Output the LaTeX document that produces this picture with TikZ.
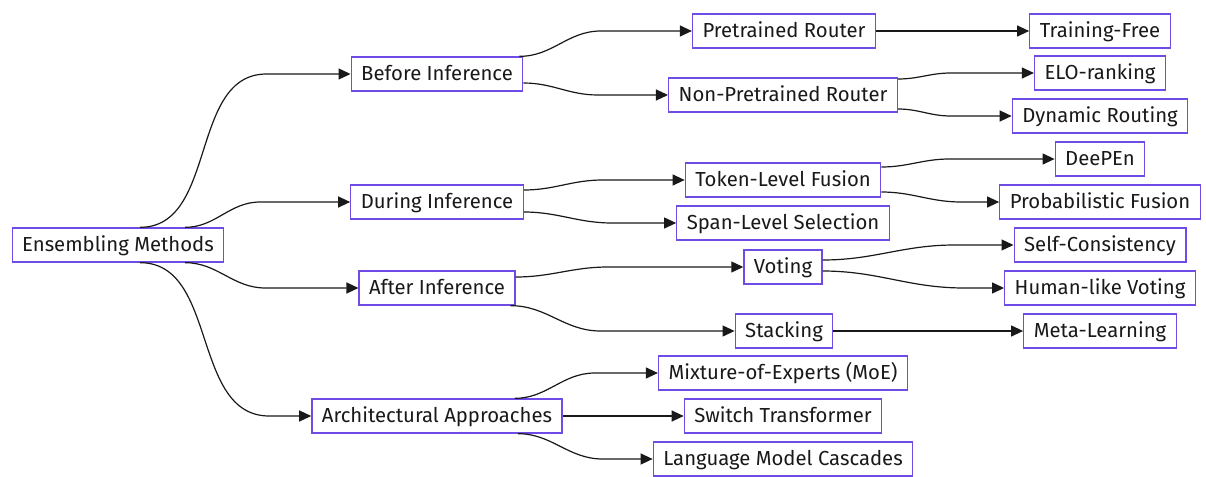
\documentclass[tikz,border=0pt]{standalone}
\usepackage{fontspec}
\setmainfont{Fira Sans}
\usetikzlibrary{arrows.meta,calc}
\definecolor{boxborder}{RGB}{112,76,230}
\definecolor{linecol}{RGB}{25,25,25}
\tikzset{
  box/.style={draw=boxborder,line width=1.3pt,fill=white,text=linecol,
    minimum height=34pt,inner xsep=10pt,inner ysep=0pt,
    text height=16pt,text depth=3pt,
    font=\fontsize{20.3pt}{23pt}\selectfont},
  edge/.style={draw=linecol,line width=1.2pt,
    -{Triangle[length=12pt,width=11pt]}},
}
\begin{document}
\begin{tikzpicture}[x=1pt,y=-1pt]
\useasboundingbox (0,0) rectangle (1206,476);
% level 0
\node[box] (em) at (118,245) {Ensembling Methods};
% level 1
\node[box] (bi) at (437,74) {Before Inference};
\node[box] (di) at (437,202) {During Inference};
\node[box] (ai) at (437,288) {After Inference};
\node[box] (aa) at (437,416) {Architectural Approaches};
% level 2
\node[box] (pr) at (784,31) {Pretrained Router};
\node[box] (npr) at (783,95) {Non-Pretrained Router};
\node[box] (tlf) at (783,180) {Token-Level Fusion};
\node[box] (sls) at (783,223) {Span-Level Selection};
\node[box] (vo) at (783,267) {Voting};
\node[box] (st) at (784,331) {Stacking};
\node[box] (moe) at (783,373) {Mixture-of-Experts (MoE)};
\node[box] (sw) at (783,416) {Switch Transformer};
\node[box] (lmc) at (783,459) {Language Model Cascades};
% level 3
\node[box] (tf) at (1100,31) {Training-Free};
\node[box] (elo) at (1100,73) {ELO-ranking};
\node[box] (dr) at (1100,116) {Dynamic Routing};
\node[box] (dp) at (1100,159) {DeePEn};
\node[box] (pf) at (1100,202) {Probabilistic Fusion};
\node[box] (sc) at (1100,245) {Self-Consistency};
\node[box] (hv) at (1100,288) {Human-like Voting};
\node[box] (ml) at (1100,331) {Meta-Learning};
% edges from root
\draw[edge] ($(em.north)+(22,0)$) to[out=0,in=180] ($(bi.west)+(-84,0)$) -- (bi.west);
\draw[edge] ($(em.north)+(67,0)$) to[out=0,in=180] ($(di.west)+(-90,0)$) -- (di.west);
\draw[edge] ($(em.south)+(67,0)$) to[out=0,in=180] ($(ai.west)+(-93,0)$) -- (ai.west);
\draw[edge] ($(em.south)+(22,0)$) to[out=0,in=180] ($(aa.west)+(-42,0)$) -- (aa.west);
% level 1 -> 2
\draw[edge] ($(bi.north east)+(-4,0)$) to[out=0,in=180] ($(pr.west)+(-91,0)$) -- (pr.west);
\draw[edge] ($(bi.east)+(0,9)$) to[out=0,in=180] ($(npr.west)+(-70,0)$) -- (npr.west);
\draw[edge] ($(di.east)+(0,-12)$) to[out=0,in=180] ($(tlf.west)+(-82,0)$) -- (tlf.west);
\draw[edge] ($(di.east)+(0,10)$) to[out=0,in=180] ($(sls.west)+(-64,0)$) -- (sls.west);
\draw[edge] ($(ai.east)+(0,-11)$) to[out=0,in=180] ($(vo.west)+(-135,0)$) -- (vo.west);
\draw[edge] ($(ai.south east)+(-5,0)$) to[out=0,in=180] ($(st.west)+(-134,0)$) -- (st.west);
\draw[edge] ($(aa.north east)+(-48,0)$) to[out=0,in=180] ($(moe.west)+(-63,0)$) -- (moe.west);
\draw[edge] (aa.east) -- (sw.west);
\draw[edge] ($(aa.south east)+(-45,0)$) to[out=0,in=180] ($(lmc.west)+(-50,0)$) -- (lmc.west);
% level 2 -> 3
\draw[edge] (pr.east) -- (tf.west);
\draw[edge] ($(npr.east)+(0,-16)$) to[out=0,in=180] ($(elo.west)+(-83,0)$) -- (elo.west);
\draw[edge] ($(npr.east)+(0,14)$) to[out=0,in=180] ($(dr.west)+(-61,0)$) -- (dr.west);
\draw[edge] ($(tlf.east)+(0,-13)$) to[out=0,in=180] ($(dp.west)+(-105,0)$) -- (dp.west);
\draw[edge] ($(tlf.east)+(0,12)$) to[out=0,in=180] ($(pf.west)+(-38,0)$) -- (pf.west);
\draw[edge] ($(vo.east)+(0,-7)$) to[out=0,in=180] ($(sc.west)+(-59,0)$) -- (sc.west);
\draw[edge] ($(vo.east)+(0,4)$) to[out=0,in=180] ($(hv.west)+(-40,0)$) -- (hv.west);
\draw[edge] (st.east) -- (ml.west);
\end{tikzpicture}
\end{document}
